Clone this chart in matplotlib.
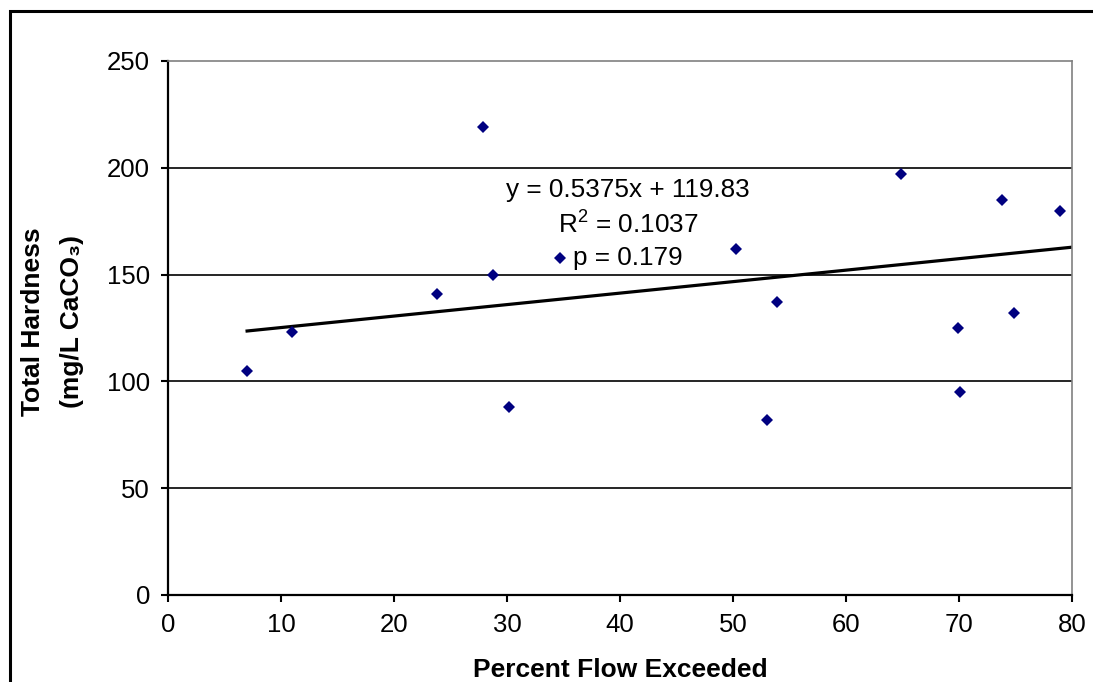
import matplotlib
matplotlib.use('Agg')
import matplotlib.pyplot as plt
from matplotlib.patches import Rectangle

# data
flow_pct = [7.0, 11.0, 23.8, 27.9, 28.8, 30.2, 34.7, 50.3, 53.0, 53.9,
            64.9, 69.9, 70.1, 73.8, 74.9, 78.9]
hardness = [105, 123, 141, 219, 150, 88, 158, 162, 82, 137,
            197, 125, 95, 185, 132, 180]
slope, intercept = 0.5375, 119.83
trend_x = [7, 80]
eq_lines = ['y = 0.5375x + 119.83', r'R$^2$ = 0.1037', 'p = 0.179']
eq_y = [189.5, 173, 158]
x_ticks = [0, 10, 20, 30, 40, 50, 60, 70, 80]
y_ticks = [0, 50, 100, 150, 200, 250]

plt.rcParams['font.family'] = ['Liberation Sans', 'DejaVu Sans']
plt.rcParams['mathtext.default'] = 'regular'

fig = plt.figure(figsize=(10.93, 6.82), dpi=100, facecolor='w')
ax = fig.add_axes([168 / 1093, 1 - 595 / 682, (1072 - 168) / 1093, (595 - 61) / 682])

# horizontal gridlines
for yv in y_ticks[1:-1]:
    ax.axhline(yv, color='black', linewidth=1.2, zorder=1)

ax.plot(flow_pct, hardness, 'D', color='#000080', markersize=6.5,
        markeredgewidth=0, zorder=3)
ax.plot(trend_x, [slope * x + intercept for x in trend_x], color='black',
        linewidth=2.3, zorder=2)

for txt, yv in zip(eq_lines, eq_y):
    ax.text(40.7, yv, txt, ha='center', va='center', fontsize=18.8, zorder=4)

ax.set_xlim(0, 80)
ax.set_ylim(0, 250)
ax.set_xticks(x_ticks)
ax.set_yticks(y_ticks)
ax.tick_params(axis='both', direction='out', length=5, width=1.5,
               labelsize=18.5, pad=8, color='black')

ax.spines['left'].set_linewidth(1.6)
ax.spines['bottom'].set_linewidth(1.6)
ax.spines['top'].set_color('#808080')
ax.spines['right'].set_color('#808080')
ax.spines['top'].set_linewidth(1.2)
ax.spines['right'].set_linewidth(1.2)

ax.set_xlabel('Percent Flow Exceeded', fontsize=19, fontweight='bold', labelpad=15)
fig.text(33 / 1093, 1 - 322 / 682, 'Total Hardness', rotation=90, ha='center',
         va='center', fontsize=19, fontweight='bold')
fig.text(72 / 1093, 1 - 322 / 682, '(mg/L CaCO\u2083)', rotation=90, ha='center',
         va='center', fontsize=19, fontweight='bold')

# outer chart border (runs past right and bottom edges)
fig.patches.append(Rectangle((9.5 / 1093, -0.5), 2, 0.5 + 1 - 10.5 / 682,
                             transform=fig.transFigure, fill=False,
                             edgecolor='black', linewidth=2.2))

plt.savefig('out.png', dpi=100)
plt.close()
